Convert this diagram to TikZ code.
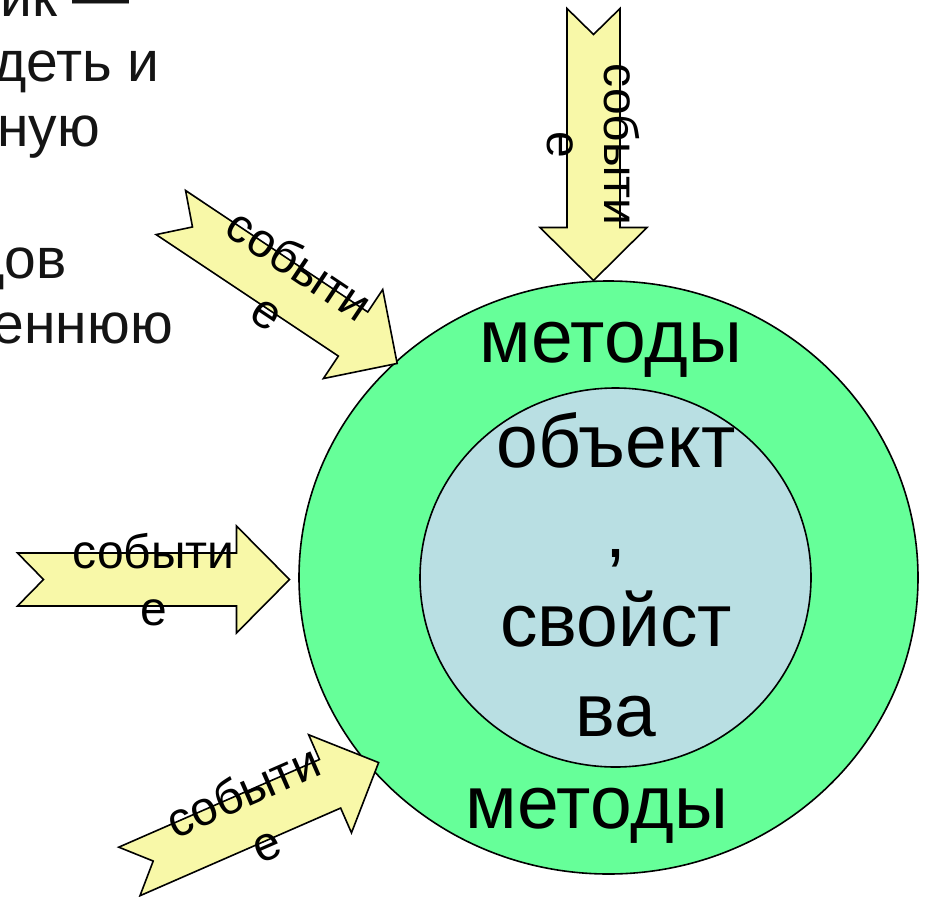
\documentclass[tikz,border=0pt]{standalone}
\usepackage{fontspec}
\setmainfont{Liberation Sans}
\usetikzlibrary{shapes.geometric}
\definecolor{ringgreen}{RGB}{102,255,153}
\definecolor{corecyan}{RGB}{185,223,227}
\definecolor{evyellow}{RGB}{248,248,168}
\tikzset{
  ring/.style={ellipse, draw=black, line width=1.6pt, inner sep=0pt},
  evshape/.style={draw=black, fill=evyellow, line width=1.6pt, line join=miter},
  evlabel/.style={font=\fontsize{48}{57.5}\selectfont, align=center, inner sep=0pt},
  bigtext/.style={font=\fontsize{75}{89.5}\selectfont, inner sep=0pt},
  slidetext/.style={font=\fontsize{57}{65}\selectfont, inner sep=0pt, anchor=base east, text=black!92},
  evarrow/.pic={\path[evshape] (-136,26.5) -- (83,26.5) -- (83,53.5) -- (136,0) -- (83,-53.5) -- (83,-26.5) -- (-136,-26.5) -- (-110,0) -- cycle;}
}
\begin{document}
\begin{tikzpicture}[x=1pt,y=-1pt]
\useasboundingbox (0,0) rectangle (925,896);
\clip (0,0) rectangle (925,896);
% partial slide text at the left edge
\node[slidetext] (t1) at (130,17) {ик —};
\node[slidetext] (t2) at (160,82) {деть и};
\node[slidetext] (t3) at (100,147) {нную};
\node[slidetext] (t4) at (67,278) {дов};
\node[slidetext] (t5) at (173,343) {еннюю};
% object rings
\node[ring, fill=ringgreen, minimum width=619pt, minimum height=593pt] (outer) at (608.5,577.5) {};
\node[ring, fill=corecyan, minimum width=391pt, minimum height=379pt] (inner) at (615.5,577.5) {};
\node[bigtext, anchor=base] (mtop) at (611,362) {методы};
\node[bigtext, anchor=base] (mbot) at (597,828) {методы};
\node[bigtext, align=center] (obj) at (616,575) {объект\\,\\свойст\\ва};
% event arrows
\pic[rotate=-90] (atop) at (593.5,144.5) {evarrow};
\node[evlabel, rotate=-90] (ltop) at (593.5,144.5) {событи\\е};
\pic[rotate=-33.7] (aul) at (284,288) {evarrow};
\node[evlabel, rotate=-33.7] (lul) at (284,288) {событи\\е};
\pic (aleft) at (153.5,579.5) {evarrow};
\node[evlabel] (lleft) at (153.5,579.5) {событи\\е};
\pic[rotate=23.6] (all) at (254,817) {evarrow};
\node[evlabel, rotate=23.6] (lll) at (254,817) {событи\\е};
\end{tikzpicture}
\end{document}
